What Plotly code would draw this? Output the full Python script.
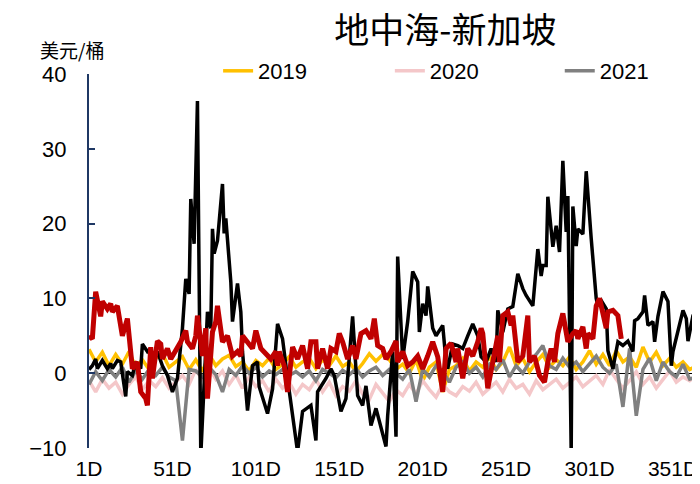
import plotly.graph_objects as go

# days for the three background years (one reading every 4 days)
days_bg = list(range(1, 366, 4))

y2019 = [3.2, 1.5, 2.8, 1.0, 2.5, 1.2, 2.9, 0.8, 1.8, 0.5, 2.0, 2.6, 0.8, 1.5, 2.2, 0.5,
         1.8, 0.2, 2.5, 1.0, 1.9, 2.4, 0.9, 1.5, 0.3, 1.7, 1.0, 2.0, 0.5, 1.2, 2.2,
         0.8, 1.5, 2.0, 0.6, 1.8, 1.0, 2.3, 0.9, 1.5, 0.2, 1.3, 2.6, 1.6, 2.5, 1.8,
         0.5, 1.2, 0.0, 1.8, -1.0, 0.8, 1.5, -2.5, 0.5, 1.0, 2.0, 0.3, 1.5, 0.8, 2.2,
         0.5, 1.5, 3.5, 1.0, 2.0, 0.2, 1.5, 2.5, 0.8, 1.8, 1.0, 2.2, 0.5, 1.5, 3.0, 1.2,
         2.5, 1.0, 3.0, 1.5, 2.2, 0.8, 3.5, 1.5, 2.8, 1.0, 2.0, 0.8, 1.5, 0.5, 1.0]

y2020 = [-1.0, -2.5, -0.8, -2.0, -1.2, -2.8, -1.5, -0.5, -2.2, -1.0, -1.8, -0.6, -2.0, -1.2, -0.3, -1.5,
         0.5, -1.0, 0.8, -0.8, 0.3, -1.5, -0.2, -2.0, -0.5, -1.8, -1.0, -2.5, -0.8, -2.0, -1.2,
         -2.8, -1.5, -2.2, -0.8, -2.5, -1.2, -3.0, -1.8, -2.4, -1.0, -2.8, -3.5, -1.5, -2.6, -3.8,
         -2.2, -3.0, -1.5, -2.8, -1.0, -2.2, -3.2, -1.5, -2.5, -3.0, -1.8, -2.4, -1.2, -2.8, -2.0,
         -1.2, -2.5, -0.8, -2.0, -1.5, -2.8, -1.0, -2.2, -1.5, -0.8, -2.0, -1.2, -0.5, -1.8, -1.0, -0.3,
         -1.5, 0.5, -0.8, -2.0, -1.0, 0.2, -1.5, -0.5, -2.0, -0.8, 0.3, -1.2, -0.5, -1.0, -0.3]

y2021 = [-1.5, 0.2, -1.0, 0.5, -0.5, 0.8, -1.2, 0.3, -0.8, 0.5, -0.3, 0.8, -0.5, -1.0, -9.0, 0.5,
         0.3, -0.5, 0.8, -0.2, -2.5, 0.5, -0.3, 1.0, 0.0, 0.8, -0.5, 0.3, -0.2, 0.5, -0.3,
         0.2, -0.5, 0.3, -1.0, 0.5, 0.0, -0.6, 0.4, -0.2, 0.6, -0.5, 0.3, 0.8, -0.3, 0.5,
         0.0, -0.8, 0.5, -3.8, 0.5, -0.5, 1.0, 0.2, -1.2, 0.8, 1.5, 0.0, 0.8, -0.5, 1.2,
         0.5, 1.8, -0.5, 1.0, 0.0, 1.5, 2.5, 3.7, 1.0, 0.5, 2.0, 0.8, 1.5, 0.2, 1.2, 2.3,
         0.8, 0.0, 1.2, -4.5, 3.3, -5.7, 0.5, 2.0, -1.0, 1.5, 0.2, -0.5, 1.2, -0.8, -0.5]

# black year (not in legend)
days_black = [1, 3, 5, 6, 9, 12, 14, 15, 18, 20, 23, 24, 27, 29, 32, 33, 36, 38, 39, 42, 45, 48,
              51, 54, 57, 59, 61, 62, 64, 66, 68, 71, 72, 74, 75, 76, 78, 81, 82, 83, 86, 87,
              90, 92, 93, 96, 99, 102, 103, 108, 111, 114, 117, 120, 123, 126, 129, 134, 137,
              138, 143, 146, 148, 152, 155, 159, 162, 165, 167, 170, 173, 177, 179, 180, 183,
              185, 186, 189, 192, 195, 198, 199, 201, 203, 204, 207, 209, 213, 215, 216, 219,
              222, 225, 228, 231, 234, 236, 239, 242, 245, 246, 249, 252, 255, 258, 261, 263,
              267, 270, 272, 273, 275, 276, 279, 281, 283, 285, 287, 288, 290, 291, 293, 294,
              297, 299, 302, 305, 306, 308, 311, 312, 315, 318, 321, 324, 327, 328, 330, 333,
              334, 336, 339, 340, 342, 345, 348, 350, 351, 354, 357, 359, 360, 363, 364]
y_black = [0.5, 1.0, 1.9, 0.6, 1.7, 0.6, 1.3, 0.6, 1.7, 1.5, -3.1, 0.2, -0.3, 1.5, 0.6, 3.9, 2.9, 3.3, 1.0, 2.9, 1.0, -0.3,
           -2.5, -0.7, 6.0, 12.6, 10.6, 23.3, 17.3, 36.4, -11.0, 4.2, 8.2, 6.0, 19.3, 16.0, 17.7, 25.3, 18.7, 20.7, 12.2, 6.9,
           12.0, 8.2, 2.9, -5.0, 1.0, 1.5, -1.8, -5.4, -2.1, 6.6, 4.6, -0.7, -5.7, -10.5, -5.1, -4.3, -9.0,
           -2.5, -0.7, 0.6, -0.3, -5.1, -3.4, 7.6, -3.0, -4.3, -1.7, -7.0, -4.7, -8.4, -9.8, -5.7, 2.9,
           -8.5, 15.6, 1.9, 6.9, 13.6, 12.2, 5.5, 9.3, 7.7, 11.6, 6.0, 5.0, 6.4, 1.5, 0.6, 3.9,
           3.7, 3.3, 5.0, 6.6, 5.0, 2.2, 1.5, 3.3, 1.5, 8.4, 5.5, 8.6, 8.9, 13.3, 11.3, 10.4,
           9.0, 16.6, 13.0, 14.4, 14.4, 23.6, 16.9, 19.7, 16.2, 28.4, 18.9, 23.7, -10.5, 22.3, 17.0, 19.3,
           18.6, 27.0, 18.0, 10.0, 9.0, 9.7, 8.6, 3.0, 0.6, 4.2, 3.7, 4.3, 2.9, 7.0, 7.3, 8.2,
           10.4, 6.4, 6.9, 4.2, 7.6, 10.9, 9.6, 1.0, 2.9, 5.5, 8.4, 7.3, 4.3, 7.7, 8.0]

# red year (not in legend)
days_red = [1, 3, 5, 8, 9, 12, 14, 15, 18, 20, 21, 24, 26, 27, 30, 32, 35, 36, 38, 39, 42, 44,
            45, 48, 50, 53, 56, 59, 60, 63, 65, 66, 69, 71, 72, 75, 77, 78, 80, 81, 84, 87,
            90, 92, 93, 96, 99, 101, 104, 107, 110, 113, 114, 115, 118, 120, 123, 126, 129,
            132, 134, 137, 138, 141, 144, 146, 149, 151, 153, 156, 159, 161, 164, 167, 170,
            172, 174, 177, 179, 182, 185, 186, 189, 192, 195, 198, 201, 204, 207, 210, 213,
            215, 218, 221, 222, 225, 228, 231, 234, 236, 237, 240, 243, 246, 247, 249, 252,
            254, 255, 258, 261, 264, 265, 268, 271, 274, 276, 278, 280, 282, 285, 287, 288,
            291, 293, 294, 297, 299, 300, 303, 305, 307, 309, 311, 312, 315, 318, 320]
y_red = [5.0, 4.6, 10.9, 7.6, 9.6, 8.6, 9.3, 8.2, 9.0, 6.0, 5.0, 7.3, 2.9, 0.6, 1.5, -2.5, -3.4, -4.3, 3.5, -0.7, 4.3, 3.9,
         1.9, 3.3, 1.9, 3.0, 4.2, 5.7, 4.2, 3.3, 5.0, 7.7, 2.3, 6.0, -3.4, 5.5, 6.9, 9.0, 6.4, 4.2, 5.0, 2.3,
         2.9, 2.3, 5.0, 4.2, 3.3, 5.7, 3.3, 2.6, 1.9, 2.9, 1.0, 2.9, 1.0, -2.5, 3.5, 1.9, 3.7,
         0.6, 4.2, 4.2, 0.6, 3.3, 0.6, 3.3, 2.9, 5.3, 4.2, 1.9, 3.7, 1.9, 5.3, 5.7, 4.6,
         7.3, 3.7, 3.3, 1.9, 2.9, 4.3, 1.5, 2.9, 1.0, 1.5, 2.3, 0.6, 2.3, 4.2, 2.2, -2.5,
         3.3, 4.0, 1.5, 3.3, -0.7, 3.3, 2.3, 4.2, 6.0, 5.3, -2.0, 1.9, 5.0, 1.5, 7.7, 8.2,
         6.4, 7.7, 1.5, 2.3, 7.7, 1.5, 2.3, -0.3, -1.2, 1.5, 3.3, 1.5, 5.3, 8.0, 5.0, 4.2,
         5.3, 5.7, 4.6, 6.2, 3.3, 5.3, 4.6, 9.0, 10.0, 7.7, 6.0, 8.2, 8.4, 7.7, 4.6]

tick_days = [1, 51, 101, 151, 201, 251, 301, 351]
tick_labels = ['1D', '51D', '101D', '151D', '201D', '251D', '301D', '351D']

font_family = 'Liberation Sans, Arial, Noto Sans CJK SC'
navy = '#1F3864'

fig = go.Figure()

# each year in the legend gets its own legend box so the row can spread out
fig.add_trace(go.Scatter(x=days_bg, y=y2019, mode='lines', name='2019', legend='legend',
                         line=dict(color='#FFC000', width=3.5)))
fig.add_trace(go.Scatter(x=days_bg, y=y2020, mode='lines', name='2020', legend='legend2',
                         line=dict(color='#F4C7C9', width=3.5)))
fig.add_trace(go.Scatter(x=days_bg, y=y2021, mode='lines', name='2021', legend='legend3',
                         line=dict(color='#808080', width=3.5)))
fig.add_trace(go.Scatter(x=days_black, y=y_black, mode='lines', name='2022',
                         line=dict(color='#000000', width=3.5), showlegend=False))
fig.add_trace(go.Scatter(x=days_red, y=y_red, mode='lines', name='2023',
                         line=dict(color='#C00000', width=5), showlegend=False))

legend_style = dict(orientation='h', xanchor='left', y=1.008, yanchor='middle',
                    font=dict(size=22), bgcolor='rgba(0,0,0,0)')

# page body adds an 8px offset, so the figure is 8px smaller than the window
fig.update_layout(
    width=692,
    height=476,
    margin=dict(l=81, r=2, t=66, b=36),
    paper_bgcolor='white',
    plot_bgcolor='white',
    font=dict(family=font_family, size=21, color='#000000'),
    title=dict(text='地中海-新加坡', x=0.632, xref='container', xanchor='center',
               y=0.952, yanchor='middle',
               font=dict(family='Noto Sans CJK SC', size=35, color='#000000')),
    legend=dict(x=0.212, **legend_style),
    legend2=dict(x=0.494, **legend_style),
    legend3=dict(x=0.773, **legend_style),
    showlegend=True,
)

fig.update_xaxes(
    range=[1, 366],
    tickvals=tick_days,
    ticktext=tick_labels,
    showgrid=False,
    showline=False,
    zeroline=False,
    ticks='',
    ticklabelstandoff=6,
)

fig.update_yaxes(
    range=[-10, 40],
    tickvals=[-10, 0, 10, 20, 30, 40],
    showgrid=False,
    showline=True,
    linecolor=navy,
    linewidth=2,
    ticks='inside',
    ticklen=6,
    tickwidth=2,
    tickcolor=navy,
    zeroline=True,
    zerolinecolor='#000000',
    zerolinewidth=1,
    ticklabelstandoff=16,
    tickfont=dict(size=22),
)

fig.add_annotation(text='美元/桶', xref='paper', yref='paper', x=-0.084, y=1.066,
                   xanchor='left', yanchor='middle', showarrow=False,
                   font=dict(family='Noto Sans CJK SC', size=19, color='#000000'))

fig.write_html('out.html')
